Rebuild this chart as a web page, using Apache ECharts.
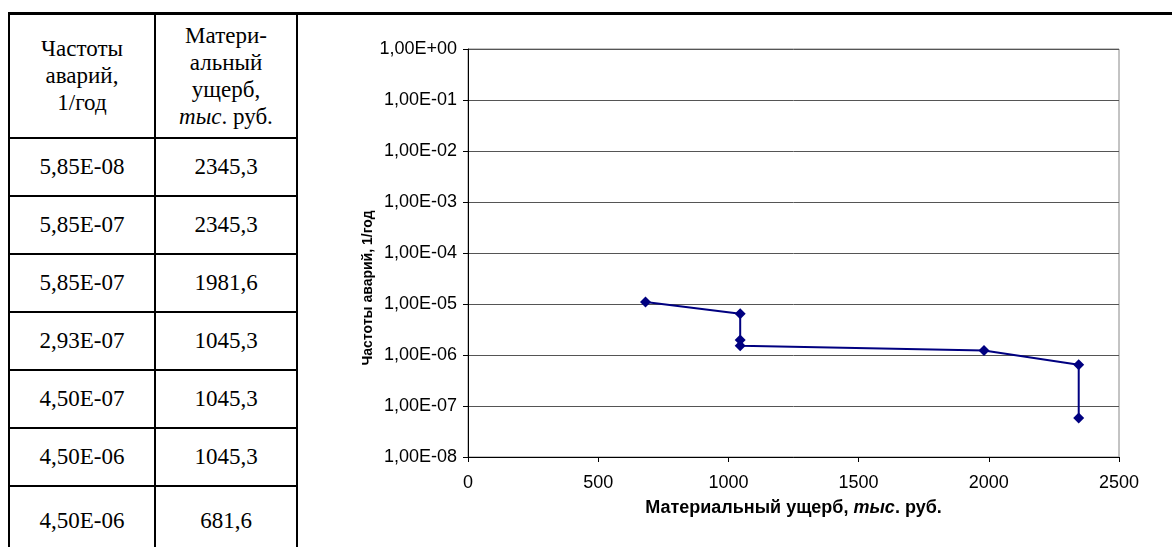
<!DOCTYPE html>
<html>
<head>
<meta charset="utf-8">
<script src="https://cdn.jsdelivr.net/npm/echarts@6/dist/echarts.min.js"></script>
<style>
html, body { margin: 0; padding: 0; background: #fff; width: 1172px; height: 547px; overflow: hidden; }
#chart { position: absolute; left: 0; top: 0; width: 1172px; height: 547px; }
#tbl { position: absolute; left: 8px; top: 12px; border-collapse: collapse; table-layout: fixed; z-index: 2; background: #fff; }
#tbl td { border: 2px solid #000; text-align: center; vertical-align: middle; padding: 0; line-height: 27px;
          font-family: "Liberation Serif", "Times New Roman", "DejaVu Serif", serif; font-size: 23px; color: #000; }
#tbl tr:first-child td { border-top: 3px solid #000; }
#topline { position: absolute; left: 297px; top: 12px; width: 900px; height: 3px; background: #000; z-index: 2; }
</style>
</head>
<body>
<div id="chart"></div>
<table id="tbl"><colgroup><col style="width:146px"><col style="width:142px"></colgroup><tbody id="tbody"></tbody></table>
<div id="topline"></div>
<script>
// таблица
var headFreq = 'Частоты<br>аварий,<br>1/год';
var headDamage = 'Матери-<br>альный<br>ущерб,<br><i>тыс</i>. руб.';
var tableFreq = ['5,85E-08', '5,85E-07', '5,85E-07', '2,93E-07', '4,50E-07', '4,50E-06', '4,50E-06'];
var tableDamage = ['2345,3', '2345,3', '1981,6', '1045,3', '1045,3', '1045,3', '681,6'];

// точки графика (накопленная частота)
var damage = [681.6, 1045.3, 1045.3, 1045.3, 1981.6, 2345.3, 2345.3];
var freqCum = [1.10e-5, 6.47e-6, 1.97e-6, 1.52e-6, 1.23e-6, 6.44e-7, 5.85e-8];
var xTickLabels = ['0', '500', '1000', '1500', '2000', '2500'];
var yTickLabels = ['1,00E-08', '1,00E-07', '1,00E-06', '1,00E-05', '1,00E-04',
                   '1,00E-03', '1,00E-02', '1,00E-01', '1,00E+00'];

var tb = document.getElementById('tbody');
var html = '<tr style="height:124px"><td>' + headFreq + '</td><td>' + headDamage + '</td></tr>';
for (var i = 0; i < tableFreq.length; i++) {
    var h = (i == tableFreq.length - 1) ? 70 : 58;
    html += '<tr style="height:' + h + 'px"><td>' + tableFreq[i] + '</td><td>' + tableDamage[i] + '</td></tr>';
}
tb.innerHTML = html;

var pts = [];
for (var k = 0; k < damage.length; k++) {
    pts.push([damage[k], freqCum[k]]);
}

var myChart = echarts.init(document.getElementById('chart'));
var font = "'Liberation Sans', Arial, sans-serif";
var option = {
    animation: false,
    grid: { left: 468, right: 53, top: 49, bottom: 90, show: true, borderColor: '#888', borderWidth: 1 },
    graphic: [{
        type: 'text',
        x: 368, y: 288,
        rotation: Math.PI / 2,
        style: {
            text: 'Частоты аварий, 1/год',
            fontFamily: font, fontSize: 14, fontWeight: 'bold', fill: '#000',
            align: 'center', verticalAlign: 'middle'
        }
    }],
    xAxis: {
        type: 'value', min: 0, max: 2500, interval: 500,
        name: '{b|Материальный ущерб, }{i|тыс}{b|. руб.}',
        nameLocation: 'middle', nameGap: 42,
        nameTextStyle: {
            rich: {
                b: { fontFamily: font, fontSize: 18, fontWeight: 'bold', color: '#000' },
                i: { fontFamily: font, fontSize: 18, fontWeight: 'bold', fontStyle: 'italic', color: '#000' }
            }
        },
        axisLine: { show: true, lineStyle: { color: '#000', width: 1 } },
        axisTick: { show: true, inside: false, length: 5, lineStyle: { color: '#000' } },
        axisLabel: {
            margin: 17, fontFamily: font, fontSize: 18, color: '#000',
            formatter: function (v) {
                return xTickLabels[Math.round(v / 500)];
            }
        },
        splitLine: { show: false }
    },
    yAxis: {
        type: 'log', logBase: 10, min: 1e-8, max: 1, splitNumber: 8,
        axisLine: { show: true, lineStyle: { color: '#000', width: 1 } },
        axisTick: { show: true, inside: false, length: 5, lineStyle: { color: '#000' } },
        axisLabel: {
            margin: 11, fontFamily: font, fontSize: 18, color: '#000',
            formatter: function (v) {
                return yTickLabels[Math.round(Math.log10(v)) + 8];
            }
        },
        minorTick: { show: false },
        splitLine: { show: true, lineStyle: { color: '#555', width: 1 } }
    },
    series: [{
        type: 'line',
        data: pts,
        symbol: 'diamond',
        symbolSize: 11,
        lineStyle: { color: '#000080', width: 2 },
        itemStyle: { color: '#000080' }
    }]
};
myChart.setOption(option);
</script>
</body>
</html>
